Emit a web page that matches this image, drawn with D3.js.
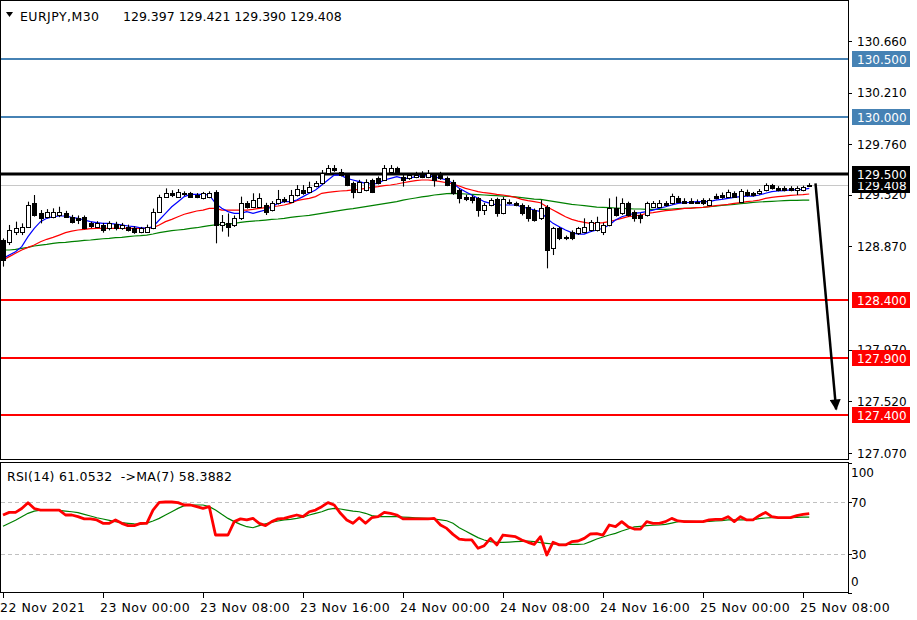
<!DOCTYPE html>
<html><head><meta charset="utf-8">
<script src="https://cdn.jsdelivr.net/npm/d3@7"></script>
<style>
body{margin:0;background:#fff}
svg{display:block}
text{font-family:"DejaVu Sans",sans-serif;font-size:12px;fill:#000;white-space:pre}
</style>
</head><body>
<svg id="chart" width="917" height="620"></svg>
<script>
// ---------------- data ----------------
const symbolLabel = "EURJPY,M30";
const opens = [128.926,128.911,128.999,128.999,129.042,129.245,129.158,129.129,129.129,129.140,129.165,129.129,129.120,129.129,129.070,129.042,129.057,129.028,129.065,129.028,129.042,129.028,128.999,128.999,129.028,129.173,129.304,129.333,129.304,129.335,129.333,129.318,129.289,129.300,129.347,129.057,129.071,129.057,129.115,129.245,129.216,129.216,129.231,129.187,129.245,129.280,129.260,129.318,129.362,129.347,129.398,129.420,129.507,129.550,129.521,129.492,129.420,129.347,129.362,129.449,129.463,129.449,129.521,129.550,129.478,129.463,129.478,129.507,129.478,129.492,129.492,129.463,129.434,129.362,129.304,129.298,129.289,129.187,129.231,129.280,129.158,129.260,129.245,129.231,129.216,129.187,129.115,129.216,128.853,129.028,128.955,128.999,128.984,128.999,129.013,129.013,128.999,129.057,129.202,129.158,129.245,129.173,129.144,129.144,129.216,129.216,129.245,129.245,129.289,129.270,129.270,129.260,129.274,129.231,129.309,129.318,129.304,129.333,129.260,129.347,129.333,129.333,129.362,129.405,129.376,129.376,129.376,129.362,129.362,129.397];
const highs = [128.940,129.057,129.086,129.071,129.260,129.318,129.187,129.195,129.202,129.216,129.180,129.145,129.140,129.140,129.085,129.090,129.075,129.090,129.085,129.075,129.060,129.045,129.040,129.060,129.200,129.320,129.376,129.360,129.370,129.350,129.345,129.335,129.345,129.350,129.360,129.144,129.158,129.140,129.304,129.265,129.333,129.333,129.250,129.265,129.362,129.300,129.362,129.405,129.405,129.434,129.440,129.536,129.579,129.579,129.545,129.505,129.435,129.450,129.455,129.460,129.480,129.579,129.579,129.565,129.495,129.510,129.520,129.525,129.536,129.510,129.520,129.480,129.450,129.375,129.320,129.315,129.300,129.250,129.290,129.295,129.300,129.280,129.260,129.245,129.230,129.200,129.274,129.230,129.040,129.040,128.965,129.010,129.040,129.115,129.100,129.129,129.075,129.289,129.304,129.289,129.260,129.185,129.160,129.260,129.265,129.274,129.265,129.330,129.310,129.290,129.290,129.280,129.290,129.290,129.330,129.340,129.365,129.350,129.370,129.365,129.345,129.370,129.420,129.415,129.395,129.395,129.395,129.395,129.400,129.421];
const lows = [128.694,128.882,128.969,128.969,129.035,129.130,129.071,129.115,129.115,129.125,129.120,129.070,129.065,129.020,129.030,129.030,128.990,129.010,129.010,129.015,129.000,128.980,128.985,128.990,129.020,129.165,129.295,129.300,129.295,129.310,129.295,129.290,129.280,129.290,128.897,128.999,128.955,129.040,129.100,129.200,129.205,129.205,129.144,129.175,129.235,129.250,129.250,129.305,129.320,129.335,129.385,129.410,129.495,129.520,129.480,129.395,129.289,129.335,129.350,129.335,129.410,129.440,129.510,129.495,129.391,129.450,129.465,129.465,129.465,129.391,129.450,129.395,129.320,129.245,129.265,129.245,129.129,129.144,129.220,129.129,129.150,129.235,129.220,129.140,129.086,129.086,129.100,128.679,128.795,128.925,128.925,128.925,128.970,128.985,129.000,129.000,128.969,129.045,129.130,129.145,129.130,129.086,129.071,129.130,129.205,129.205,129.220,129.235,129.250,129.240,129.240,129.240,129.230,129.220,129.280,129.285,129.295,129.295,129.250,129.305,129.305,129.320,129.350,129.365,129.350,129.350,129.350,129.318,129.350,129.390];
const closes = [128.752,129.013,129.028,129.042,129.231,129.144,129.115,129.173,129.173,129.173,129.130,129.086,129.100,129.028,129.045,129.075,129.013,129.071,129.028,129.057,129.013,128.999,129.028,129.042,129.173,129.304,129.333,129.318,129.341,129.330,129.304,129.304,129.333,129.338,129.057,129.086,129.042,129.115,129.245,129.216,129.274,129.289,129.173,129.245,129.280,129.270,129.318,129.368,129.333,129.391,129.420,129.507,129.550,129.536,129.492,129.405,129.347,129.434,129.434,129.347,129.420,129.550,129.550,129.507,129.449,129.492,129.492,129.478,129.507,129.449,129.463,129.405,129.333,129.289,129.280,129.274,129.187,129.231,129.274,129.158,129.280,129.245,129.231,129.158,129.115,129.100,129.202,128.839,129.028,128.940,128.940,128.940,129.028,129.042,129.086,129.086,129.057,129.202,129.144,129.245,129.144,129.115,129.115,129.245,129.245,129.245,129.231,129.309,129.260,129.251,129.251,129.251,129.245,129.274,129.289,129.298,129.347,129.304,129.353,129.318,129.318,129.356,129.405,129.376,129.362,129.362,129.362,129.376,129.391,129.408];
const maFast = [128.766,128.795,128.824,128.868,128.955,129.028,129.086,129.115,129.129,129.135,129.135,129.123,129.115,129.100,129.086,129.077,129.071,129.071,129.065,129.057,129.048,129.042,129.033,129.028,129.042,129.100,129.158,129.216,129.260,129.304,129.324,129.324,129.324,129.318,129.245,129.202,129.173,129.158,129.158,129.173,129.158,129.173,129.187,129.216,129.245,129.260,129.260,129.274,129.304,129.333,129.362,129.405,129.449,129.492,129.492,129.463,129.449,129.434,129.420,129.414,129.420,129.449,129.463,129.478,129.463,129.463,129.478,129.484,129.484,129.478,129.463,129.449,129.420,129.376,129.347,129.318,129.289,129.260,129.245,129.231,129.231,129.231,129.231,129.216,129.202,129.187,129.173,129.115,129.071,129.042,129.013,128.990,128.978,128.978,128.999,129.013,129.028,129.057,129.100,129.129,129.144,129.158,129.164,129.173,129.187,129.202,129.216,129.231,129.245,129.251,129.254,129.260,129.260,129.260,129.274,129.280,129.289,129.298,129.304,129.309,129.309,129.318,129.333,129.347,129.353,129.356,129.362,129.362,129.367,129.376];
const maMid = [128.752,128.781,128.810,128.839,128.862,128.882,128.911,128.932,128.949,128.969,128.990,129.004,129.013,129.019,129.025,129.028,129.028,129.028,129.028,129.028,129.028,129.028,129.028,129.028,129.033,129.057,129.086,129.106,129.129,129.150,129.164,129.179,129.187,129.202,129.202,129.187,129.187,129.187,129.187,129.187,129.193,129.202,129.208,129.216,129.222,129.231,129.245,129.269,129.280,129.289,129.304,129.333,129.341,129.347,129.353,129.356,129.362,129.367,129.376,129.385,129.391,129.399,129.405,129.414,129.425,129.434,129.443,129.449,129.449,129.443,129.434,129.425,129.414,129.396,129.376,129.362,129.347,129.338,129.333,129.324,129.318,129.309,129.298,129.280,129.269,129.260,129.251,129.216,129.187,129.158,129.129,129.106,129.091,129.080,129.071,129.071,129.077,129.086,129.100,129.115,129.129,129.135,129.144,129.158,129.164,129.173,129.182,129.187,129.193,129.202,129.202,129.208,129.211,129.216,129.225,129.231,129.237,129.245,129.251,129.260,129.266,129.274,129.289,129.298,129.304,129.309,129.315,129.318,129.321,129.327];
const maSlow = [128.839,128.839,128.845,128.853,128.862,128.874,128.882,128.888,128.897,128.903,128.906,128.911,128.917,128.923,128.926,128.932,128.937,128.940,128.946,128.949,128.955,128.961,128.964,128.969,128.978,128.990,128.999,129.007,129.013,129.019,129.028,129.033,129.042,129.051,129.057,129.062,129.065,129.071,129.080,129.086,129.091,129.094,129.100,129.106,129.109,129.115,129.123,129.129,129.135,129.141,129.150,129.158,129.167,129.176,129.184,129.193,129.199,129.208,129.216,129.225,129.234,129.243,129.251,129.260,129.274,129.283,129.292,129.301,129.309,129.318,129.324,129.330,129.333,129.330,129.327,129.324,129.321,129.318,129.315,129.312,129.309,129.306,129.301,129.295,129.289,129.283,129.280,129.272,129.263,129.254,129.245,129.237,129.231,129.225,129.219,129.213,129.211,129.208,129.205,129.202,129.199,129.196,129.196,129.193,129.193,129.193,129.193,129.196,129.199,129.202,129.205,129.208,129.211,129.216,129.222,129.228,129.231,129.237,129.243,129.248,129.254,129.257,129.260,129.263,129.266,129.269,129.272,129.272,129.274,129.274];
const rsiValues = [60,62,62,65,69.5,65,63.8,63.8,63.8,63.8,60,60,58.7,57,57,56.2,53.6,53.6,56.2,53.6,51.8,51.8,53.6,53.6,63.8,69.7,70,70,69.5,67.7,67.7,66.4,65.1,66.4,44.6,44.6,44.6,54.9,57,56.2,57.4,53.6,51.8,54.9,57,57.4,58.7,60,58.7,62.5,63.8,66.4,69.5,67.7,61.3,56.2,53.6,57.9,53.6,57.9,58.7,62,61.3,60,57,57,57,57,57,57.4,52.3,49.7,45.1,41.5,40.8,40.8,34.4,36.4,42,37,44.6,44,43.3,40.8,39,37.4,43.3,29.2,39,37,37,39.5,40,42,45.4,45.6,44.6,52.3,51,54.9,51,49.2,49.2,54.9,53.6,53.6,54.9,57.4,55.4,54.9,54.9,54.9,54.9,56.2,56.6,56.6,58.7,54.9,58.7,56.2,56.2,59.5,62,58.7,58,58,58,59.5,60.5,61.05];
const rsiMaValues = [51.3,53.6,55.9,58.7,61.3,63,63.8,63.8,63.8,63.6,63,62.5,61.8,60.5,59.2,57.9,56.9,55.9,54.9,54.1,53.6,53.1,52.8,53.8,55.4,57.4,60,62.5,65.1,67.2,67.7,67.7,67.7,66.4,63.8,60.5,57.4,54.9,52.8,51,50.2,51.8,53.3,54.4,55.4,56.2,56.6,57.4,58.4,60,61.3,62.5,64.3,65.1,64.6,63.8,63,62.5,61.3,59.5,58.7,58.7,58.7,58.7,58.4,58.2,57.9,57.7,57.4,56.9,56.2,55.6,53.6,50.2,47.7,45.1,42.6,40.8,39.5,39,39,39.2,39.5,39.7,40,39.5,38.7,38.2,37.7,37.4,37.4,37.4,37.4,37.7,39.5,41.5,43.1,44.6,45.9,47.7,49.2,50.8,51.3,51.8,52.1,52.3,52.8,53.8,54.9,55.4,55.1,54.9,54.9,55.1,55.4,55.6,56.2,56.2,56.2,56.2,56.4,57.2,57.7,58,58,58,58,58.2,58.4,58.39];
const priceTicks = [130.660,130.210,129.760,129.320,128.870,127.970,127.520,127.070];
const blueLevels = [130.500,130.000];
const blackLevels = [129.500];
const redLevels = [128.400,127.900,127.400];
const bidPrice = 129.408;
const dateTickBars = [0,16,32,48,64,80,96,112,128];
const dateTickLabels = ["22 Nov 2021","23 Nov 00:00","23 Nov 08:00","23 Nov 16:00","24 Nov 00:00","24 Nov 08:00","24 Nov 16:00","25 Nov 00:00","25 Nov 08:00"];
const rsiTicks = [100,70,30,0];
const rsiLevels = [70,30];
const arrowStart = {bar:130, price:129.420};
const arrowEnd = {bar:133.3, price:127.450};
const headerText = "129.397 129.421 129.390 129.408";
const rsiText = "RSI(14) 61.0532  ->MA(7) 58.3882";

// ---------------- layout ----------------
const W = 917, H = 620;
const mainBottom = 459, plotRight = 848;
const rsiTop = 462, rsiBottom = 592;
const svg = d3.select("#chart");

const x = d3.scaleLinear().domain([0, 129]).range([3, 809.25]);
const y = d3.scaleLinear().domain([127.07, 130.66]).range([453, 41]);
const yr = d3.scaleLinear().domain([0, 100]).range([593, 463]);
const px = i => Math.round(x(i));

svg.append("defs").html(`
<clipPath id="mainClip"><rect x="1" y="1" width="847" height="458"/></clipPath>
<clipPath id="rsiClip"><rect x="1" y="463" width="847" height="129"/></clipPath>
<marker id="ah" viewBox="0 0 10 10" refX="9" refY="5" markerWidth="5" markerHeight="4.4" orient="auto" markerUnits="strokeWidth">
<path d="M0,0 L10,5 L0,10 z" fill="#000"/></marker>`);

svg.append("rect").attr("width", W).attr("height", H).attr("fill", "#fff");

// ---------- main panel ----------
const main = svg.append("g").attr("clip-path", "url(#mainClip)");

main.append("line").attr("x1", 1).attr("x2", plotRight)
  .attr("y1", Math.round(y(bidPrice)) + 0.5).attr("y2", Math.round(y(bidPrice)) + 0.5)
  .attr("stroke", "#c8c8c8").attr("stroke-width", 1);

const lvl = (arr, color, w) => main.selectAll(null).data(arr).enter().append("line")
  .attr("x1", 1).attr("x2", plotRight)
  .attr("y1", d => Math.round(y(d))).attr("y2", d => Math.round(y(d)))
  .attr("stroke", color).attr("stroke-width", w);
lvl(blueLevels, "#4682b4", 2.2);
lvl(redLevels, "#ff0000", 2.2);
lvl(blackLevels, "#000", 2.8);

const idx = d3.range(opens.length);
const lineGen = arr => d3.line().x(i => x(i)).y(i => y(arr[i]))(idx);
main.append("path").attr("d", lineGen(maSlow)).attr("fill", "none").attr("stroke", "#008000").attr("stroke-width", 1.2);
main.append("path").attr("d", lineGen(maMid)).attr("fill", "none").attr("stroke", "#ff0000").attr("stroke-width", 1.2);
main.append("path").attr("d", lineGen(maFast)).attr("fill", "none").attr("stroke", "#0000ff").attr("stroke-width", 1.2);

const cg = main.append("g");
idx.forEach(i => {
  const cx = px(i) + 0.5;
  const o = opens[i], c = closes[i];
  cg.append("line").attr("x1", cx).attr("x2", cx)
    .attr("y1", y(highs[i])).attr("y2", y(lows[i])).attr("stroke", "#000").attr("stroke-width", 1.1);
  const top = Math.round(y(Math.max(o, c))), bot = Math.round(y(Math.min(o, c)));
  const h = Math.max(bot - top, 0);
  if (h < 1) {
    cg.append("line").attr("x1", cx - 2.5).attr("x2", cx + 2.5)
      .attr("y1", top + 0.5).attr("y2", top + 0.5).attr("stroke", "#000");
  } else {
    cg.append("rect").attr("x", cx - 2).attr("y", top + 0.5).attr("width", 4).attr("height", h)
      .attr("fill", c >= o ? "#fff" : "#000").attr("stroke", "#000").attr("stroke-width", 1);
  }
});

svg.append("line")
  .attr("x1", x(arrowStart.bar)).attr("y1", y(arrowStart.price))
  .attr("x2", x(arrowEnd.bar)).attr("y2", y(arrowEnd.price))
  .attr("stroke", "#000").attr("stroke-width", 2.5).attr("marker-end", "url(#ah)");

svg.append("rect").attr("x", 0.5).attr("y", 0.5).attr("width", plotRight).attr("height", mainBottom)
  .attr("fill", "none").attr("stroke", "#000").attr("stroke-width", 1);

// header
svg.append("path").attr("d", "M6,12 L13,12 L9.5,17 Z").attr("fill", "#000");
svg.append("text").attr("x", 20).attr("y", 21).style("font-size", "12.5px").style("letter-spacing", "0.45px").text(symbolLabel);
svg.append("text").attr("x", 123).attr("y", 21).style("font-size", "12.5px").text(headerText);

// price axis
const pa = svg.append("g");
pa.selectAll(null).data(priceTicks).enter().append("line")
  .attr("x1", plotRight).attr("x2", plotRight + 4)
  .attr("y1", d => Math.round(y(d)) + 0.5).attr("y2", d => Math.round(y(d)) + 0.5)
  .attr("stroke", "#000");
pa.selectAll(null).data(priceTicks).enter().append("text")
  .attr("x", 857).attr("y", d => y(d) + 4.5).text(d => d.toFixed(3));

const boxLabel = (val, color) => {
  const cy = Math.round(y(val));
  svg.append("rect").attr("x", 852).attr("y", cy - 8).attr("width", 58).attr("height", 16).attr("fill", color);
  svg.append("text").attr("x", 857).attr("y", cy + 4.5).style("fill", "#fff").text(val.toFixed(3));
};
boxLabel(bidPrice, "#000");
blackLevels.forEach(v => boxLabel(v, "#000"));
blueLevels.forEach(v => boxLabel(v, "#4682b4"));
redLevels.forEach(v => boxLabel(v, "#ff0000"));

// ---------- RSI panel ----------
const rg = svg.append("g").attr("clip-path", "url(#rsiClip)");
rg.selectAll(null).data(rsiLevels).enter().append("line")
  .attr("x1", 1).attr("x2", plotRight)
  .attr("y1", d => Math.round(yr(d)) + 0.5).attr("y2", d => Math.round(yr(d)) + 0.5)
  .attr("stroke", "#c0c0c0").attr("stroke-dasharray", "4,3");
rg.append("path").attr("d", d3.line().x(i => x(i)).y(i => yr(rsiMaValues[i]))(idx))
  .attr("fill", "none").attr("stroke", "#008000").attr("stroke-width", 1.2);
rg.append("path").attr("d", d3.line().x(i => x(i)).y(i => yr(rsiValues[i]))(idx))
  .attr("fill", "none").attr("stroke", "#ff0000").attr("stroke-width", 2.8).attr("stroke-linejoin", "round");

svg.append("rect").attr("x", 0.5).attr("y", rsiTop + 0.5).attr("width", plotRight).attr("height", rsiBottom - rsiTop)
  .attr("fill", "none").attr("stroke", "#000");
svg.append("text").attr("x", 7).attr("y", 481).style("font-size", "12.5px").style("letter-spacing", "0.25px").text(rsiText);

const ra = svg.append("g");
ra.selectAll(null).data(rsiTicks).enter().append("line")
  .attr("x1", plotRight).attr("x2", plotRight + 4)
  .attr("y1", d => Math.round(yr(d)) + 0.5).attr("y2", d => Math.round(yr(d)) + 0.5)
  .attr("stroke", "#000");
ra.selectAll(null).data(rsiTicks).enter().append("text")
  .attr("x", 851).attr("y", d => Math.min(Math.max(yr(d) + 4.5, 477), 586)).text(d => d);

// ---------- time axis ----------
const ta = svg.append("g");
ta.selectAll(null).data(dateTickBars).enter().append("line")
  .attr("x1", b => px(b) + 0.5).attr("x2", b => px(b) + 0.5)
  .attr("y1", rsiBottom).attr("y2", rsiBottom + 6).attr("stroke", "#000");
ta.selectAll(null).data(dateTickBars).enter().append("text")
  .attr("x", b => px(b) - 3).attr("y", 612).style("font-size", "12.5px").style("letter-spacing", "0.5px")
  .text((b, k) => dateTickLabels[k]);
</script>
</body></html>
